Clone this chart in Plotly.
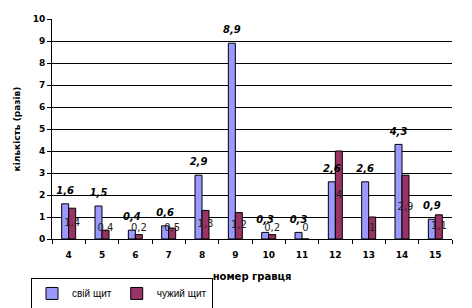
import plotly.graph_objects as go

categories = ["4", "5", "6", "7", "8", "9", "10", "11", "12", "13", "14", "15"]
own_shield = [1.6, 1.5, 0.4, 0.6, 2.9, 8.9, 0.3, 0.3, 2.6, 2.6, 4.3, 0.9]
other_shield = [1.4, 0.4, 0.2, 0.5, 1.3, 1.2, 0.2, 0, 4, 1, 2.9, 1.1]
y_ticks = list(range(0, 11))

BLUE = "#9999FF"
RED = "#993366"
W = 0.21

def fmt(v):
    return ("%g" % v).replace(".", ",")

idx = list(range(len(categories)))

fig = go.Figure()
fig.add_trace(go.Bar(
    x=idx, y=own_shield, name="свій щит",
    width=W, offset=-W,
    marker=dict(color=BLUE, line=dict(color="black", width=1)),
    textposition="none",
))
fig.add_trace(go.Bar(
    x=idx, y=other_shield, name="чужий щит",
    width=W, offset=0,
    marker=dict(color=RED, line=dict(color="black", width=1)),
    textposition="none",
))
fig.add_trace(go.Scatter(
    x=[i + W / 2 for i in idx],
    y=[max(v / 2, 0.5) for v in other_shield],
    mode="text", text=[fmt(v) for v in other_shield],
    textposition="middle center",
    textfont=dict(family="DejaVu Sans", size=10, color="#222222"),
    showlegend=False, hoverinfo="skip", cliponaxis=False,
))
fig.add_trace(go.Scatter(
    x=[i - W / 2 for i in idx],
    y=own_shield,
    mode="markers+text", text=["<b><i>" + fmt(v) + "</i></b>" for v in own_shield],
    marker=dict(size=10, opacity=0),
    textposition="top center",
    textfont=dict(family="DejaVu Sans", size=10, color="black"),
    showlegend=False, hoverinfo="skip", cliponaxis=False,
))

fig.update_layout(
    width=472, height=308,
    margin=dict(l=52, r=20, t=19, b=69, autoexpand=False),
    paper_bgcolor="white", plot_bgcolor="white",
    barmode="overlay",
    showlegend=True,
    legend=dict(
        orientation="h", x=-0.0525, y=-0.177, xanchor="left", yanchor="top",
        bordercolor="black", borderwidth=1, bgcolor="white",
        font=dict(family="Liberation Sans", size=10, color="black"),
        tracegroupgap=0, itemwidth=30,
    ),
    xaxis=dict(
        range=[-0.5, len(categories) - 0.5],
        tickmode="array", tickvals=idx, ticktext=["<b>" + c + "</b>" for c in categories],
        ticks="", showgrid=False, zeroline=False,
        showline=True, linecolor="black", linewidth=1,
        ticklabelstandoff=7,
        tickfont=dict(family="DejaVu Sans", size=9, color="black"),
        minor=dict(ticks="outside", tick0=-0.5, dtick=1, ticklen=4, tickcolor="black", showgrid=False),
        title=dict(text="<b>номер гравця</b>", font=dict(family="DejaVu Sans", size=10, color="black"), standoff=14),
    ),
    yaxis=dict(
        range=[0, 10], tickmode="array", tickvals=y_ticks,
        ticktext=["<b>%d</b>" % t for t in y_ticks],
        ticks="outside", ticklen=4, tickcolor="black",
        showgrid=True, gridcolor="black", gridwidth=1,
        zeroline=False, showline=True, linecolor="black", linewidth=1,
        tickfont=dict(family="DejaVu Sans", size=9, color="black"),
        title=dict(text="<b>кількість (разів)</b>", font=dict(family="DejaVu Sans", size=9, color="black"), standoff=10),
    ),
)

fig.write_html("out.html")
